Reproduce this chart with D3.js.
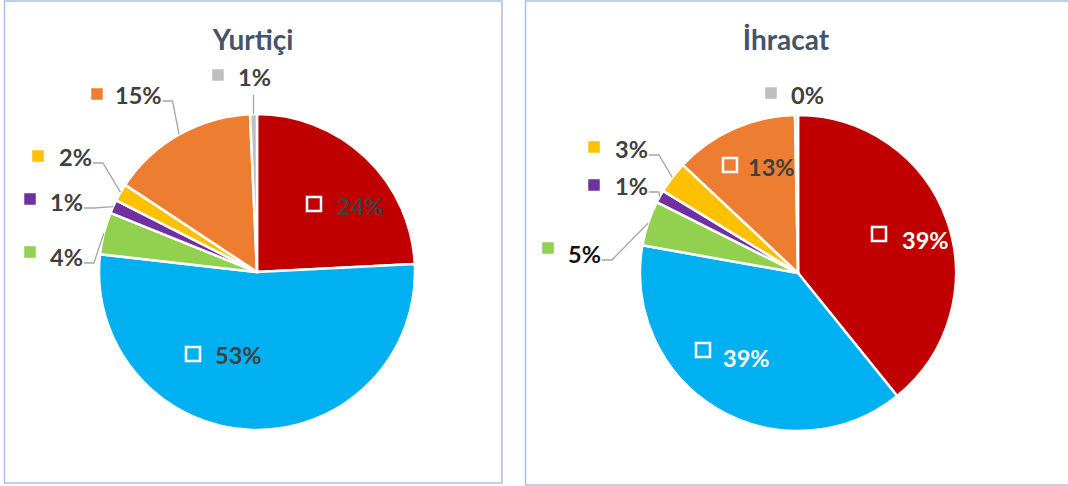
<!DOCTYPE html>
<html>
<head>
<meta charset="utf-8">
<script src="https://cdn.jsdelivr.net/npm/d3@7"></script>
<style>
  body { margin: 0; background: #fff; }
  svg { display: block; font-family: Lato, "Open Sans", sans-serif; }
</style>
</head>
<body>
<svg id="chart" width="1068" height="486"></svg>
<script>
// slice order, clockwise from 12 o'clock
var categories = ["red", "blue", "green", "purple", "yellow", "orange", "grey"];
var colors = ["#c00000", "#00b0f0", "#92d050", "#7030a0", "#ffc000", "#ed7d31", "#bfbfbf"];

var titles = ["Yurtiçi", "İhracat"];
var yurticiValues = [24.2, 52.6, 4.3, 1.4, 1.8, 15.0, 0.7];
var ihracatValues = [39.2, 38.6, 4.6, 1.3, 3.3, 12.7, 0.3];

// label placement per slice: square centre, text start, inside?, text colour, leader type
var yurticiLabels = [
    {sx: 314, sy: 204, tx: 337, ty: 206, inside: true, fill: "#404040"},
    {sx: 193, sy: 354, tx: 215, ty: 355, inside: true, fill: "#404040"},
    {sx: 30, sy: 252, tx: 50, ty: 257, fill: "#404040", leader: "side"},
    {sx: 30, sy: 199, tx: 50, ty: 202, fill: "#404040", leader: "side"},
    {sx: 38, sy: 156, tx: 59, ty: 157, fill: "#404040", leader: "side"},
    {sx: 97, sy: 94, tx: 115, ty: 95, fill: "#404040", leader: "side"},
    {sx: 218, sy: 75, tx: 238, ty: 77, fill: "#404040", leader: "down"}
];
var ihracatLabels = [
    {sx: 879, sy: 234, tx: 902, ty: 240, inside: true, fill: "#ffffff"},
    {sx: 703, sy: 350, tx: 723, ty: 358, inside: true, fill: "#ffffff"},
    {sx: 548, sy: 248, tx: 568, ty: 254, fill: "#111111", leader: "side"},
    {sx: 594, sy: 185, tx: 615, ty: 186, fill: "#404040", leader: "side"},
    {sx: 594, sy: 147, tx: 615, ty: 149, fill: "#404040", leader: "side"},
    {sx: 730, sy: 165, tx: 748, ty: 167, inside: true, fill: "#404040"},
    {sx: 771, sy: 93, tx: 791, ty: 95, fill: "#404040", leader: "none"}
];

var panels = [
    {x: 4.5, y: 1, w: 497.5, h: 482, cx: 257, cy: 272, r: 158, titleX: 253, titleY: 50,
     values: yurticiValues, labels: yurticiLabels, title: titles[0]},
    {x: 525.5, y: 1, w: 560, h: 484, cx: 798, cy: 273, r: 158, titleX: 786, titleY: 50,
     values: ihracatValues, labels: ihracatLabels, title: titles[1]}
];

const svg = d3.select("#chart");

const pie = d3.pie().sort(null).value(d => d);

panels.forEach(p => {

    svg.append("rect")
        .attr("x", p.x).attr("y", p.y)
        .attr("width", p.w).attr("height", p.h)
        .attr("fill", "#fff")
        .attr("stroke", "#a9c1e8")
        .attr("stroke-width", 1.5);

    svg.append("text")
        .attr("x", p.titleX).attr("y", p.titleY)
        .attr("text-anchor", "middle")
        .attr("font-size", 28)
        .attr("font-weight", "bold")
        .attr("fill", "#44546a")
        .text(p.title);

    const g = svg.append("g").attr("transform", `translate(${p.cx},${p.cy})`);
    const arcs = pie(p.values);
    const arc = d3.arc().innerRadius(0).outerRadius(p.r);

    g.selectAll("path")
        .data(arcs)
        .join("path")
        .attr("d", arc)
        .attr("fill", (d, i) => colors[i])
        .attr("stroke", "#fff")
        .attr("stroke-width", 2.5)
        .attr("stroke-linejoin", "round");

    // data labels
    const lab = svg.append("g");
    arcs.forEach((d, i) => {
        const L = p.labels[i];
        const sz = L.inside ? 14 : 11.5;

        lab.append("rect")
            .attr("x", L.sx - sz / 2).attr("y", L.sy - sz / 2)
            .attr("width", sz).attr("height", sz)
            .attr("fill", L.inside ? "none" : colors[i])
            .attr("stroke", L.inside ? "#fff" : "none")
            .attr("stroke-width", L.inside ? 2.5 : 0);

        const t = lab.append("text")
            .attr("x", L.tx).attr("y", L.ty)
            .attr("dominant-baseline", "central")
            .attr("font-size", 23.5)
            .attr("font-weight", "bold")
            .attr("fill", L.fill)
            .text(Math.round(p.values[i]) + "%");

        if (L.leader && L.leader !== "none") {
            const mid = (d.startAngle + d.endAngle) / 2;
            const ex = p.cx + p.r * Math.sin(mid);
            const ey = p.cy - p.r * Math.cos(mid);
            let pts;
            if (L.leader === "side") {
                const x0 = L.tx + t.node().getComputedTextLength() + 1;
                const y0 = L.ty + 6;
                pts = [[x0, y0], [x0 + 10, y0], [ex, ey]];
            } else {
                pts = [[ex, L.ty + 18], [ex, ey]];
            }
            lab.append("path")
                .attr("d", d3.line()(pts))
                .attr("fill", "none")
                .attr("stroke", "#a6a6a6")
                .attr("stroke-width", 1.3);
        }
    });
});
</script>
</body>
</html>
